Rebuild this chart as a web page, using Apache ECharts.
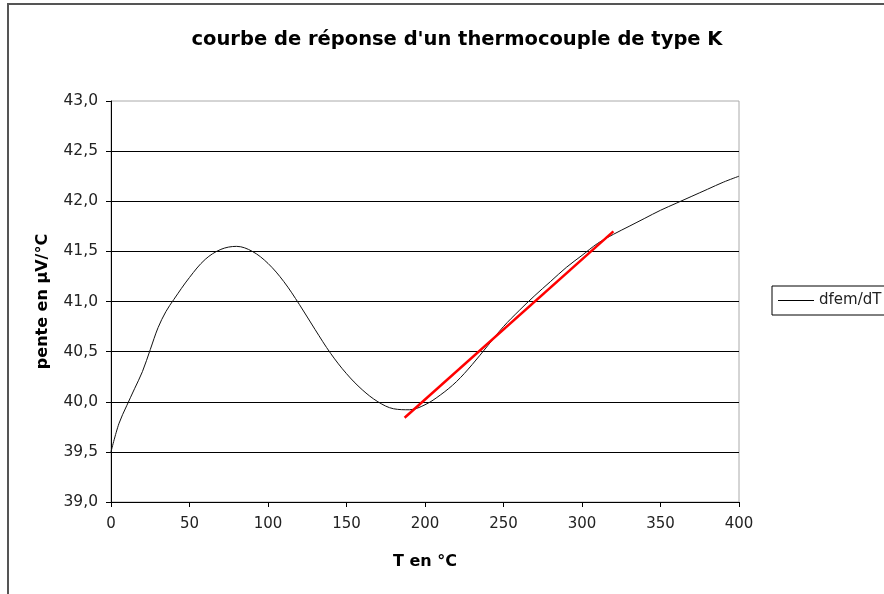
<!DOCTYPE html>
<html>
<head>
<meta charset="utf-8">
<script src="https://cdn.jsdelivr.net/npm/echarts@6/dist/echarts.min.js"></script>
<style>
  html, body { margin: 0; padding: 0; background: #fff; }
  #main { width: 884px; height: 594px; }
</style>
</head>
<body>
<div id="main"></div>
<script>
// temperature (°C) and slope dfem/dT (µV/°C)
let temps = [0, 5, 10, 15, 20, 25, 30, 35, 40, 50, 60, 70, 80, 90, 100, 110, 120, 130, 140, 150,
    160, 170, 180, 190, 200, 210, 220, 230, 240, 250, 260, 270, 280, 290, 300, 310, 320, 330,
    340, 350, 360, 370, 380, 390, 400];
let slopes = [39.50, 39.78, 39.96, 40.13, 40.30, 40.52, 40.74, 40.90, 41.02, 41.24, 41.42, 41.52,
    41.55, 41.50, 41.38, 41.20, 40.97, 40.72, 40.48, 40.28, 40.12, 40.00, 39.93, 39.92, 39.97,
    40.07, 40.20, 40.37, 40.56, 40.75, 40.91, 41.06, 41.20, 41.34, 41.46, 41.58, 41.67, 41.75,
    41.83, 41.91, 41.98, 42.05, 42.12, 42.19, 42.25];
// red tangent line, two end points
let tangentT = [187, 320];
let tangentV = [39.84, 41.70];

let font = "'DejaVu Sans', Arial, sans-serif";

let dom = document.getElementById("main");
let myChart = echarts.init(dom, null, {
    renderer: "canvas",
    useDirtyRect: false,
});
let option;

option = {
    animation: false,
    backgroundColor: "#fff",
    textStyle: {
        fontFamily: font,
    },
    title: {
        text: "courbe de réponse d'un thermocouple de type K",
        left: 452,
        top: 25,
        textAlign: "center",
        textStyle: {
            fontSize: 19.5,
            fontWeight: "bold",
            color: "#000",
            fontFamily: font,
        },
    },
    legend: {
        data: ["dfem/dT"],
        left: 772,
        top: 286,
        orient: "vertical",
        borderColor: "#000",
        borderWidth: 1,
        padding: [7, 30, 7, 6],
        icon: "rect",
        itemWidth: 36,
        itemHeight: 1,
        itemStyle: { color: "#000" },
        textStyle: {
            fontSize: 15,
            color: "#222",
            fontFamily: font,
        },
    },
    graphic: [{
        type: "rect",
        shape: { x: 8, y: 4, width: 900, height: 610 },
        style: { fill: null, stroke: "#555", lineWidth: 2 },
        silent: true,
    }],
    grid: {
        left: 111,
        top: 101,
        right: 145,
        bottom: 92,
        show: true,
        borderColor: "#aaa",
        borderWidth: 1,
    },
    xAxis: {
        type: "value",
        min: 0,
        max: 400,
        interval: 50,
        name: "T en °C",
        nameLocation: "middle",
        nameGap: 52,
        nameTextStyle: {
            fontSize: 16,
            fontWeight: "bold",
            color: "#000",
            fontFamily: font,
        },
        axisLine: { show: true, lineStyle: { color: "#000", width: 1 } },
        axisTick: { show: true, length: 5, lineStyle: { color: "#000" } },
        axisLabel: {
            fontSize: 15,
            color: "#222",
            margin: 15,
            fontFamily: font,
        },
        splitLine: { show: false },
    },
    yAxis: {
        type: "value",
        min: 39,
        max: 43,
        interval: 0.5,
        name: "pente en µV/°C",
        nameLocation: "middle",
        nameGap: 60,
        nameTextStyle: {
            fontSize: 16,
            fontWeight: "bold",
            color: "#000",
            fontFamily: font,
        },
        axisLine: { show: true, lineStyle: { color: "#000", width: 1 } },
        axisTick: { show: true, length: 5, lineStyle: { color: "#000" } },
        axisLabel: {
            fontSize: 15.5,
            color: "#222",
            margin: 13,
            fontFamily: font,
            formatter: function (v) {
                return v.toFixed(1).replace(".", ",");
            },
        },
        splitLine: {
            show: true,
            showMinLine: false,
            showMaxLine: false,
            lineStyle: { color: "#000", width: 1 },
        },
    },
    series: [{
            name: "dfem/dT",
            type: "line",
            smooth: 0.35,
            symbol: "none",
            data: temps.map(function (t, i) { return [t, slopes[i]]; }),
            lineStyle: { color: "#111", width: 1 },
            itemStyle: { color: "#000" },
        },
        {
            name: "tangente",
            type: "line",
            symbol: "none",
            data: tangentT.map(function (t, i) { return [t, tangentV[i]]; }),
            lineStyle: { color: "#ff0000", width: 2.5 },
            z: 3,
        },
    ],
};

if (option && typeof option === "object") {
    myChart.setOption(option);
}

window.addEventListener("resize", myChart.resize);
</script>
</body>
</html>
